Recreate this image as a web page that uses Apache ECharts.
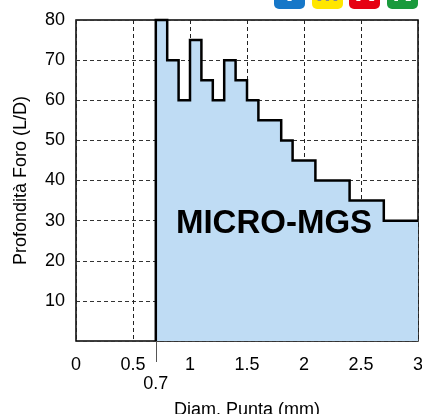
<!DOCTYPE html>
<html>
<head>
<meta charset="utf-8">
<script src="https://cdn.jsdelivr.net/npm/echarts@6/dist/echarts.min.js"></script>
<style>html,body{margin:0;padding:0;background:#fff}#c{width:422px;height:414px}</style>
</head>
<body>
<div id="c"></div>
<script>
// Step edges (drill diameter, mm) and max hole depth (L/D) for each interval
var edges = [0.7, 0.8, 0.9, 1.0, 1.1, 1.2, 1.3, 1.4, 1.5, 1.6, 1.8, 1.9, 2.1, 2.4, 2.7, 3.0];
var depths = [80, 70, 60, 75, 65, 60, 70, 65, 60, 55, 50, 45, 40, 35, 30];
var xTicks = [0, 0.5, 1, 1.5, 2, 2.5, 3];
var yTicks = [10, 20, 30, 40, 50, 60, 70, 80];
var extraXLabel = [0.7];
var seriesName = 'MICRO-MGS';
var xName = 'Diam. Punta (mm)';
var yName = 'Profondità Foro (L/D)';
var logoLetters = ['T', 'M', 'K', 'N'];

var data = [[edges[0], 0]];
for (var i = 0; i < depths.length; i++) data.push([edges[i], depths[i]]);
data.push([edges[edges.length - 1], depths[depths.length - 1]]);

var FONT = 'Liberation Sans, Arial, sans-serif';
var chart = echarts.init(document.getElementById('c'), null, {renderer: 'canvas'});

var logoColors = ['#1677c8', '#ffe600', '#e60012', '#1a9a3c'];
var letterColors = ['#fff', '#888', '#fff', '#fff'];
var logoX = [274, 312, 349, 387];
var logoEls = [];
logoLetters.forEach(function (L, k) {
  logoEls.push({type: 'rect', left: logoX[k], top: -22, shape: {width: 31, height: 31, r: 5}, style: {fill: logoColors[k]}, z: 10});
  logoEls.push({type: 'text', x: logoX[k] + 15.5, y: 7, style: {text: L, fill: letterColors[k], font: 'bold 28px ' + FONT, textAlign: 'center', textVerticalAlign: 'bottom'}, z: 11});
});

chart.setOption({
  animation: false,
  grid: {left: 76, right: 4, top: 20, bottom: 73, show: true, borderColor: '#000', borderWidth: 1.5,
    backgroundColor: 'transparent', containLabel: false, outerBoundsMode: 'none'},
  xAxis: [{
    type: 'value', min: 0, max: 3, interval: 0.5, position: 'bottom',
    name: xName, nameLocation: 'middle', nameGap: 60,
    nameTextStyle: {fontFamily: FONT, fontSize: 18, color: '#000'},
    axisLine: {show: false},
    axisTick: {show: false},
    axisLabel: {fontFamily: FONT, fontSize: 18, color: '#000', margin: 15,
      formatter: function (v) { return String(v); }},
    splitLine: {show: true, lineStyle: {type: [4, 3], color: '#222', width: 1}}
  }, {
    type: 'value', min: 0, max: 3, position: 'bottom', offset: 0,
    axisLine: {show: false}, splitLine: {show: false},
    axisTick: {show: true, customValues: extraXLabel, length: 21, lineStyle: {color: '#555', width: 1}},
    axisLabel: {show: false}
  }, {
    type: 'value', min: 0, max: 3, position: 'bottom', offset: 19,
    axisLine: {show: false}, axisTick: {show: false}, splitLine: {show: false},
    axisLabel: {customValues: extraXLabel, fontFamily: FONT, fontSize: 18, color: '#000', margin: 15,
      formatter: function (v) { return String(v); }}
  }],
  yAxis: {
    type: 'value', min: 0, max: 80, interval: 10,
    name: yName, nameLocation: 'middle', nameGap: 46, nameRotate: 90,
    nameTextStyle: {fontFamily: FONT, fontSize: 18, color: '#000'},
    axisLine: {show: false}, axisTick: {show: false},
    axisLabel: {customValues: yTicks, fontFamily: FONT, fontSize: 18, color: '#000', margin: 11},
    splitLine: {show: true, lineStyle: {type: [4, 3], color: '#333', width: 1}}
  },
  series: [{
    type: 'line', name: seriesName, data: data, step: 'end', symbol: 'none', clip: false,
    lineStyle: {color: '#000', width: 2.5, join: 'miter'},
    areaStyle: {color: '#bfdcf4', opacity: 1},
    z: 3
  }],
  graphic: [{
    type: 'text', x: 274, y: 224,
    style: {text: seriesName, font: 'bold 33px ' + FONT, fill: '#000', textAlign: 'center', textVerticalAlign: 'middle'},
    z: 20
  }].concat(logoEls)
});
</script>
</body>
</html>
